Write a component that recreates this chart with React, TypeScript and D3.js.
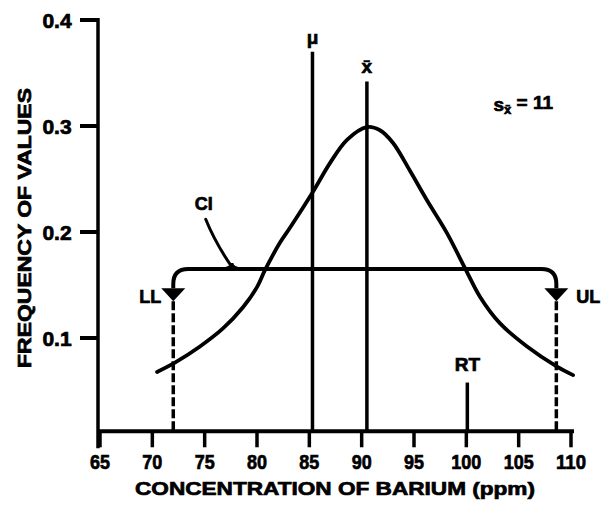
import * as d3 from "d3";

// x axis ticks (ppm) and y axis ticks (frequency)
const xTicks = [65, 70, 75, 80, 85, 90, 95, 100, 105, 110];
const yTicks = [0.1, 0.2, 0.3, 0.4];

// frequency curve
const curveConc = [70.45, 72.2, 74.55, 76.75, 78.66, 80.0, 80.76, 82.2, 83.15, 85.35, 86.97, 88.6, 90.5, 91.75, 93.0, 94.6, 96.24, 98.15, 99.87, 101.3, 103.2, 105.8, 108.66, 110.2];
const curveFreq = [0.068, 0.077, 0.092, 0.109, 0.129, 0.148, 0.164, 0.19, 0.204, 0.238, 0.265, 0.287, 0.299, 0.296, 0.284, 0.258, 0.23, 0.199, 0.166, 0.139, 0.114, 0.092, 0.073, 0.065];

// reference lines: mean, sample mean, regulatory threshold
const refLabels = ["μ", "x̄"];
const refConc = [85.3, 90.5];
const refTop = [0.37, 0.342];
const rtConc = 100;
const rtTop = 0.058;

// confidence interval
const ciLower = 72;
const ciUpper = 108.6;
const ciLevel = 0.165;

const W = 610;
const H = 515;

const App = () => {
  const x = d3.scaleLinear().domain([65, 110]).range([100, 571]);
  const y = d3.scaleLinear().domain([0, 0.4]).range([444, 20]);
  const base = y(0.012);
  const font = "'Liberation Sans', Arial, sans-serif";
  const ink = { fill: "#000", stroke: "#000", strokeWidth: 0.7 };

  const line = d3
    .line<number>()
    .x((d, i) => x(curveConc[i]))
    .y((d) => y(d))
    .curve(d3.curveCatmullRom.alpha(0.5));

  // CI bracket with rounded ends and arrows
  const yc = y(ciLevel);
  const yA = y(0.147);
  const r = 15;
  const xl = x(ciLower);
  const xu = x(ciUpper);
  const bracket = `M${xl},${yA} L${xl},${yc + r} Q${xl},${yc} ${xl + r},${yc} L${xu - r},${yc} Q${xu},${yc} ${xu},${yc + r} L${xu},${yA}`;
  const arrow = (cx: number) => `M${cx - 12},${yA} L${cx + 12},${yA} L${cx},${yA + 13} Z`;

  // CI leader
  const p0 = [x(75.1), y(0.212)];
  const pc = [x(76.0), y(0.19)];
  const p1 = [x(77.6), y(0.167)];

  return (
    <svg width={W} height={H} style={{ position: "absolute", left: 0, top: 0, background: "#fff" }}>
      {/* y axis */}
      <line x1={x(65) - 2} x2={x(65) - 2} y1={y(0.4) - 2} y2={base + 17} stroke="#000" strokeWidth={3.5} />
      {yTicks.map((t) => (
        <g key={t}>
          <line x1={x(65) - 20} x2={x(65) - 2} y1={y(t)} y2={y(t)} stroke="#000" strokeWidth={4} />
          <text x={57} y={y(t)} dy="0.36em" textAnchor="middle" fontFamily={font} fontWeight="bold" fontSize={21} {...ink}>
            {t.toFixed(1)}
          </text>
        </g>
      ))}
      <text
        transform={`translate(24,${228}) rotate(-90)`}
        textAnchor="middle"
        dy="0.36em"
        fontFamily={font}
        fontWeight="bold"
        fontSize={19}
        textLength={280}
        lengthAdjust="spacingAndGlyphs"
        {...ink}
      >
        FREQUENCY OF VALUES
      </text>

      {/* x axis */}
      <line x1={x(65) - 3} x2={x(110) + 3} y1={base} y2={base} stroke="#000" strokeWidth={4} />
      {xTicks.map((t) => (
        <g key={t}>
          <line x1={x(t)} x2={x(t)} y1={base} y2={base + 16} stroke="#000" strokeWidth={3.5} />
          <text
            x={x(t)}
            y={461}
            dy="0.36em"
            textAnchor="middle"
            fontFamily={font}
            fontWeight="bold"
            fontSize={21}
            textLength={String(t).length * 10}
            lengthAdjust="spacingAndGlyphs"
            {...ink}
          >
            {t}
          </text>
        </g>
      ))}
      <text
        x={335}
        y={488}
        dy="0.36em"
        textAnchor="middle"
        fontFamily={font}
        fontWeight="bold"
        fontSize={19}
        textLength={400}
        lengthAdjust="spacingAndGlyphs"
        {...ink}
      >
        CONCENTRATION OF BARIUM (ppm)
      </text>

      {/* reference lines */}
      {refConc.map((c, i) => (
        <g key={c}>
          <line x1={x(c)} x2={x(c)} y1={y(refTop[i])} y2={base} stroke="#000" strokeWidth={3.5} />
          <text x={x(c)} y={y(refTop[i]) - 15} dy="0.36em" textAnchor="middle" fontFamily={font} fontWeight="bold" fontSize={19} {...ink}>
            {refLabels[i]}
          </text>
        </g>
      ))}
      <line x1={x(rtConc) + 1} x2={x(rtConc) + 1} y1={y(rtTop)} y2={base} stroke="#000" strokeWidth={3.5} />
      <text x={x(rtConc) + 1} y={y(rtTop) - 18} dy="0.36em" textAnchor="middle" fontFamily={font} fontWeight="bold" fontSize={19} {...ink}>
        RT
      </text>

      {/* CI limits */}
      <line x1={xl} x2={xl} y1={yA + 13} y2={base} stroke="#000" strokeWidth={3.5} strokeDasharray="9,3" />
      <line x1={xu} x2={xu} y1={yA + 13} y2={base} stroke="#000" strokeWidth={3.5} strokeDasharray="9,3" />
      <path d={bracket} fill="none" stroke="#000" strokeWidth={4} />
      <path d={arrow(xl)} fill="#000" />
      <path d={arrow(xu)} fill="#000" />
      <text x={xl - 12} y={yA + 8} dy="0.36em" textAnchor="end" fontFamily={font} fontWeight="bold" fontSize={18} {...ink}>
        LL
      </text>
      <text x={xu + 20} y={yA + 8} dy="0.36em" textAnchor="start" fontFamily={font} fontWeight="bold" fontSize={18} {...ink}>
        UL
      </text>

      {/* frequency curve */}
      <path d={line(curveFreq) ?? ""} fill="none" stroke="#000" strokeWidth={3.8} strokeLinecap="round" />

      {/* CI label and leader */}
      <path d={`M${p0[0]},${p0[1]} Q${pc[0]},${pc[1]} ${p1[0]},${p1[1]}`} fill="none" stroke="#000" strokeWidth={3} strokeLinecap="round" />
      <path d={`M${p1[0] - 10},${yc} Q${p1[0]},${yc - 1} ${p1[0]},${p1[1] - 4} Q${p1[0]},${yc - 1} ${p1[0] + 10},${yc}`} fill="none" stroke="#000" strokeWidth={3} />
      <text x={x(75.1) - 2} y={y(0.227)} dy="0.36em" textAnchor="middle" fontFamily={font} fontWeight="bold" fontSize={18} {...ink}>
        CI
      </text>

      {/* standard error note */}
      <text x={x(102.6)} y={y(0.321)} dy="0.36em" fontFamily={font} fontWeight="bold" fontSize={19} {...ink}>
        s
        <tspan fontSize={13} dy="0.25em">x̄</tspan>
        <tspan dy="-0.25em"> = 11</tspan>
      </text>
    </svg>
  );
};

export default App;
